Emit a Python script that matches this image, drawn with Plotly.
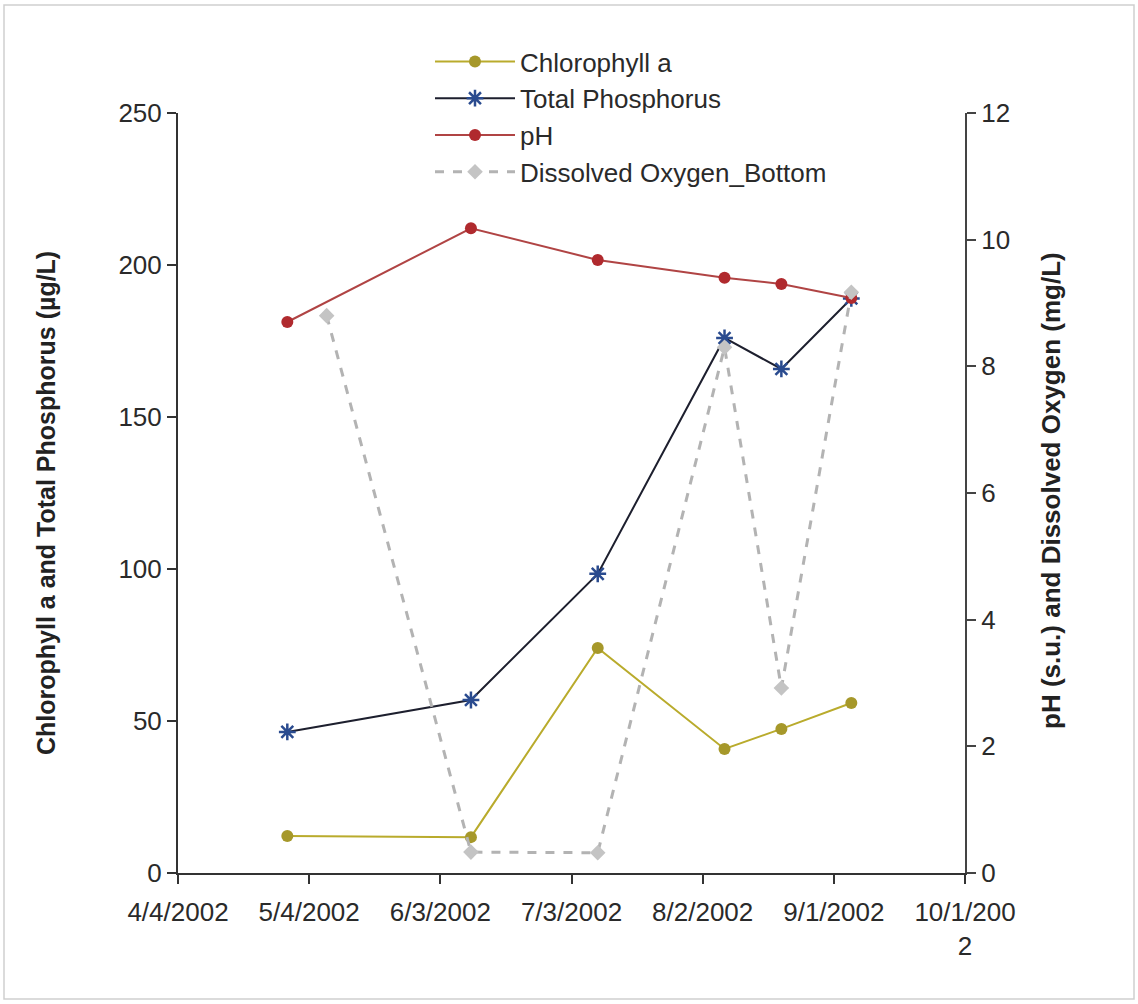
import plotly.graph_objects as go

# Sampling dates and measured values
dates = ["2002-04-29", "2002-06-10", "2002-07-09", "2002-08-07", "2002-08-20", "2002-09-05"]
chlorophyll_a = [12.2, 11.8, 74.0, 40.8, 47.4, 55.9]          # µg/L
total_phosphorus = [46.4, 56.9, 98.4, 176.0, 165.8, 189.0]    # µg/L
ph = [8.70, 10.18, 9.68, 9.40, 9.30, 9.08]                    # s.u.

do_dates = ["2002-05-08", "2002-06-10", "2002-07-09", "2002-08-07", "2002-08-20", "2002-09-05"]
do_bottom = [8.8, 0.33, 0.32, 8.3, 2.92, 9.17]                # mg/L

# Axis ticks
x_tickvals = ["2002-04-04", "2002-05-04", "2002-06-03", "2002-07-03",
              "2002-08-02", "2002-09-01", "2002-10-01"]
x_ticktext = ["4/4/2002", "5/4/2002", "6/3/2002", "7/3/2002",
              "8/2/2002", "9/1/2002", "10/1/200<br>2"]
left_ticks = [0, 50, 100, 150, 200, 250]
right_ticks = [0, 2, 4, 6, 8, 10, 12]

FONT = "Liberation Sans, Arial, sans-serif"

fig = go.Figure()

fig.add_trace(go.Scatter(
    x=dates, y=chlorophyll_a, name="Chlorophyll a", mode="lines+markers",
    line=dict(color="#b9ab2c", width=2),
    marker=dict(symbol="circle", size=12, color="#a6982a"),
))
fig.add_trace(go.Scatter(
    x=dates, y=total_phosphorus, name="Total Phosphorus", mode="lines+markers",
    line=dict(color="#1d1f2e", width=2),
    marker=dict(symbol="asterisk-open", size=14, color="#2a4b8f",
                line=dict(color="#2a4b8f", width=2.5)),
))
fig.add_trace(go.Scatter(
    x=dates, y=ph, name="pH", mode="lines+markers", yaxis="y2",
    line=dict(color="#b04444", width=2),
    marker=dict(symbol="circle", size=12, color="#b02a2e"),
))
fig.add_trace(go.Scatter(
    x=do_dates, y=do_bottom, name="Dissolved Oxygen_Bottom", mode="lines+markers",
    yaxis="y2",
    line=dict(color="#b3b3b3", width=3, dash="dash"),
    marker=dict(symbol="diamond", size=12, color="#c4c4c4"),
))

# Light frame around the chart area
W, H = 1138, 1004
L, R, T, B = 178, 173, 113, 131
pw, ph_px = W - L - R, H - T - B


def px_x(v):
    return (v - L) / pw


def px_y(v):
    return (H - B - v) / ph_px


fig.add_shape(type="rect", xref="paper", yref="paper",
              x0=px_x(4), x1=px_x(1134), y0=px_y(999), y1=px_y(5),
              line=dict(color="#cfcfcf", width=1.5), layer="below")

# Axis titles
fig.add_annotation(text="<b>Chlorophyll a and Total Phosphorus (µg/L)</b>",
                   xref="paper", yref="paper", x=px_x(30), y=px_y(503),
                   textangle=-90, showarrow=False,
                   font=dict(family=FONT, size=25, color="#222222"))
fig.add_annotation(text="<b>pH (s.u.) and Dissolved Oxygen (mg/L)</b>",
                   xref="paper", yref="paper", x=px_x(1068), y=px_y(491),
                   textangle=-90, showarrow=False,
                   font=dict(family=FONT, size=26, color="#222222"))

fig.update_layout(
    width=W, height=H,
    margin=dict(l=L, r=R, t=T, b=B),
    paper_bgcolor="white", plot_bgcolor="white",
    font=dict(family=FONT, size=26, color="#2a2a2a"),
    showlegend=True,
    legend=dict(x=px_x(430), y=px_y(38), xanchor="left", yanchor="top",
                bgcolor="rgba(0,0,0,0)", font=dict(size=26, color="#2a2a2a"),
                itemwidth=80, tracegroupgap=0),
    xaxis=dict(type="date", range=["2002-04-04", "2002-10-01"],
               tickvals=x_tickvals, ticktext=x_ticktext,
               showgrid=False, zeroline=False,
               showline=True, linecolor="#333333", linewidth=2,
               ticks="outside", ticklen=9, tickwidth=1.5, tickcolor="#333333",
               ticklabelstandoff=6),
    yaxis=dict(range=[0, 250], tickvals=left_ticks,
               showgrid=False, zeroline=False,
               showline=True, linecolor="#333333", linewidth=2,
               ticks="outside", ticklen=9, tickwidth=1.5, tickcolor="#333333"),
    yaxis2=dict(range=[0, 12], tickvals=right_ticks, overlaying="y", side="right",
                showgrid=False, zeroline=False,
                showline=True, linecolor="#444444", linewidth=2,
                ticks="outside", ticklen=9, tickwidth=1.5, tickcolor="#444444"),
)

fig.write_html("out.html")
